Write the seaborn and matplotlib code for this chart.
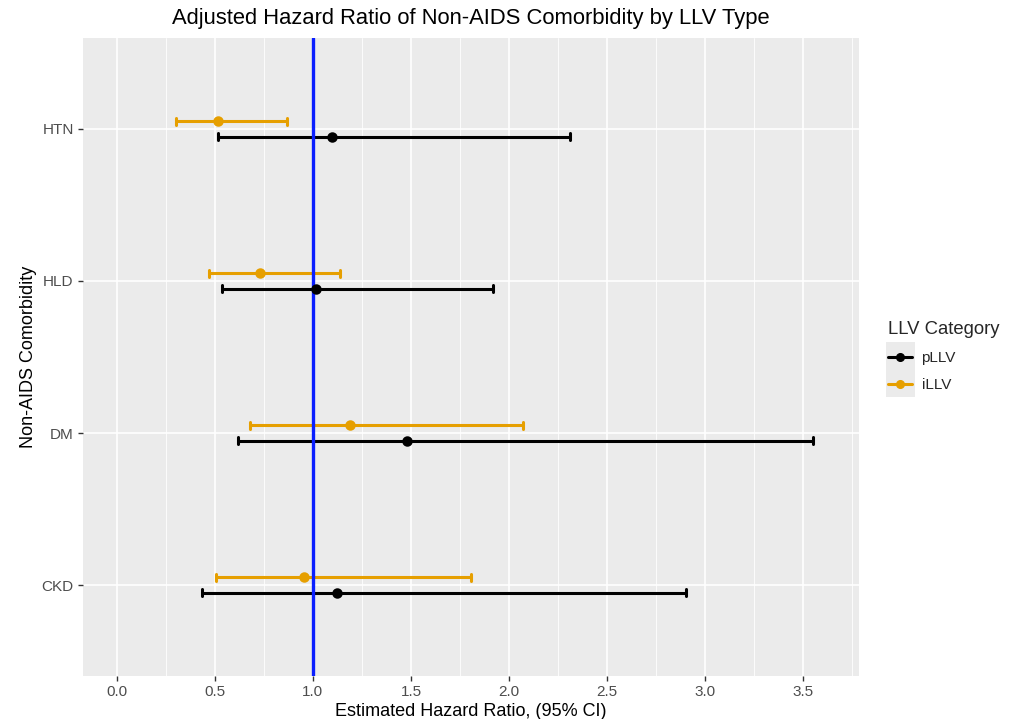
import matplotlib
matplotlib.use("Agg")
import matplotlib.pyplot as plt
from matplotlib.ticker import MultipleLocator
from matplotlib.lines import Line2D
from matplotlib.patches import Rectangle
import seaborn as sns
import pandas as pd

conditions = ["HTN", "HLD", "DM", "CKD"]
categories = ["pLLV", "iLLV"]
# point estimates and 95% CI per category, in order of conditions
pllv_est = [1.10, 1.015, 1.48, 1.125]
pllv_low = [0.515, 0.536, 0.62, 0.434]
pllv_high = [2.31, 1.92, 3.55, 2.90]
illv_est = [0.515, 0.733, 1.19, 0.957]
illv_low = [0.303, 0.473, 0.68, 0.505]
illv_high = [0.867, 1.139, 2.07, 1.807]

rows = []
for cat, est, lo, hi in [("pLLV", pllv_est, pllv_low, pllv_high),
                         ("iLLV", illv_est, illv_low, illv_high)]:
    for c, e, l, h in zip(conditions, est, lo, hi):
        for v in (l, e, h):
            rows.append({"Condition": c, "Category": cat, "HR": v})
df = pd.DataFrame(rows)

sns.set_theme(style="darkgrid", rc={
    "axes.facecolor": "#EBEBEB",
    "grid.color": "white",
    "grid.linewidth": 1.1,
    "axes.edgecolor": "#EBEBEB",
})
plt.rcParams["font.family"] = ["Liberation Sans", "DejaVu Sans"]

fig = plt.figure(figsize=(10.14, 7.19), dpi=100)
ax = fig.add_axes([0.0816, 0.0594, 0.8474 - 0.0816, 0.9476 - 0.0594])

palette = {"pLLV": "#000000", "iLLV": "#E69F00"}
# iLLV drawn first so that it sits above pLLV within each row
sns.pointplot(data=df, x="HR", y="Condition", hue="Category",
              order=conditions, hue_order=categories[::-1], palette=palette,
              estimator="median", errorbar=("pi", 100), orient="h",
              dodge=0.1, linestyle="none", capsize=0.05,
              markersize=5.5, err_kws={"linewidth": 2.2}, ax=ax, legend=False)

ax.axvline(1.0, color="#0A1FFF", linewidth=2.4, zorder=2.5)
for ln in ax.lines:
    if ln.get_marker() not in (None, "None", "", " "):
        ln.set_zorder(3)

ax.set_xlim(-0.173, 3.785)
ax.set_ylim(3.6, -0.6)
ax.xaxis.set_minor_locator(MultipleLocator(0.25))
ax.set_xticks([0, 0.5, 1, 1.5, 2, 2.5, 3, 3.5])
ax.set_xticklabels(["0.0", "0.5", "1.0", "1.5", "2.0", "2.5", "3.0", "3.5"])
ax.grid(which="major", color="white", linewidth=1.2)
ax.grid(which="minor", axis="x", color="white", linewidth=0.6)
ax.grid(which="minor", axis="y", visible=False)
ax.tick_params(axis="both", which="major", length=3.5, width=1.0,
               color="#333333", labelcolor="#4D4D4D", labelsize=11,
               bottom=True, left=True, pad=3)
ax.tick_params(axis="both", which="minor", length=0)
for s in ax.spines.values():
    s.set_visible(False)

ax.set_xlabel("Estimated Hazard Ratio, (95% CI)", fontsize=13, color="black", labelpad=3)
ax.set_ylabel("Non-AIDS Comorbidity", fontsize=13, color="black", labelpad=3)
ax.set_title("Adjusted Hazard Ratio of Non-AIDS Comorbidity by LLV Type",
             fontsize=15.8, color="black", pad=10)

handles = [Line2D([0], [0], color=palette[c], marker="o", markersize=5.5,
                  linewidth=2.2) for c in categories]
leg = ax.legend(handles, categories, loc="center left", bbox_to_anchor=(1.029, 0.5),
                frameon=False, title="LLV Category", title_fontsize=13.3, fontsize=11,
                handlelength=1.6, labelspacing=0.85, alignment="left",
                borderaxespad=0, handletextpad=0.6)
leg.set_zorder(6)
# grey key background like ggplot's legend.key
ax.add_patch(Rectangle((886 / 1014, 1 - 397 / 719), 29 / 1014, 55 / 719,
                       transform=fig.transFigure, facecolor="#EBEBEB",
                       edgecolor="none", zorder=5, clip_on=False))

fig.savefig("out.png", dpi=100)
